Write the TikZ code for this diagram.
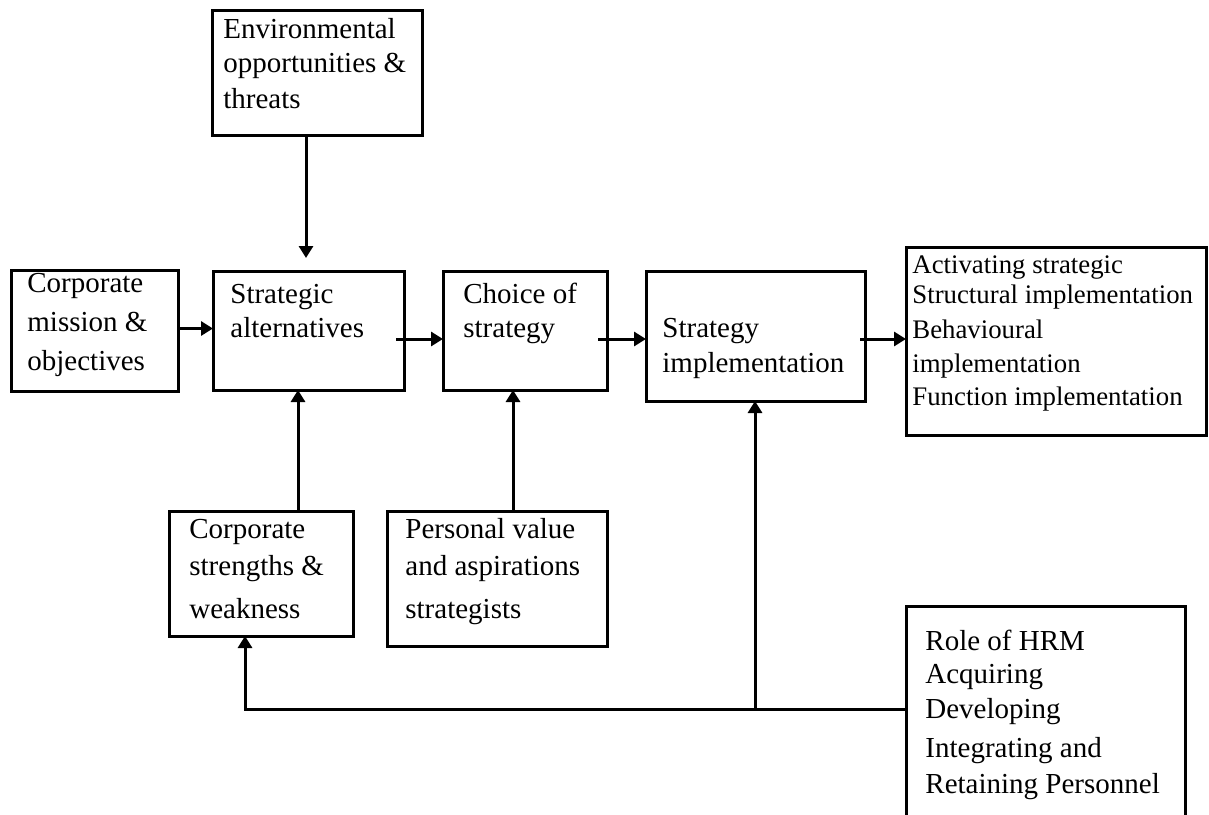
\documentclass[tikz,border=0pt]{standalone}
\usepackage{fontspec}
\setmainfont{Liberation Serif}
\usetikzlibrary{arrows.meta,calc}
\begin{document}
\begin{tikzpicture}[x=0.5pt,y=-0.5pt,
  boxstyle/.style={draw,line width=1.5pt,inner sep=0,outer sep=0},
  arr/.style={line width=1.5pt,-{Triangle[length=6pt,width=7pt]}},
  ln/.style={line width=1.5pt},
  txt/.style={anchor=base west,inner sep=0,font=\fontsize{14.5}{16}\selectfont},
  txtsm/.style={anchor=base west,inner sep=0,font=\fontsize{13.4}{16}\selectfont}]
\useasboundingbox (0,0) rectangle (1209,814);
% boxes: center, width, height (px)
\newcommand\mybox[5]{\node[boxstyle,minimum width=#4*0.5pt,minimum height=#5*0.5pt] (#1) at (#2,#3) {};}
\mybox{env}{317}{72.5}{210}{125}
\mybox{mis}{94.5}{330.5}{167}{121}
\mybox{alt}{308.5}{330.5}{191}{119}
\mybox{cho}{525}{330.5}{164}{119}
\mybox{imp}{755.5}{336}{219}{130}
\mybox{act}{1056}{341}{300}{188}
\mybox{str}{261}{573.5}{184}{125}
\mybox{per}{497}{578.5}{220}{135}
\node[inner sep=0,outer sep=0,minimum width=279*0.5pt,minimum height=210*0.5pt] (hrm) at (1045.5,711) {};
\draw[ln] (hrm.south west) -- (hrm.north west) -- (hrm.north east) -- (hrm.south east);
% texts
\foreach \n/\x/\y/\t in {
  e1/223/38/{Environmental}, e2/223/72/{opportunities \&}, e3/223/108/{threats},
  m1/27/292/{Corporate}, m2/27/331/{mission \&}, m3/27/370/{objectives},
  a1/230/303/{Strategic}, a2/230/337/{alternatives},
  c1/463/303/{Choice of}, c2/463/337/{strategy},
  i1/662/337/{Strategy}, i2/662/372/{implementation},
  s1/189/538/{Corporate}, s2/189/575/{strengths \&}, s3/189/618/{weakness},
  p1/405/538/{Personal value}, p2/405/575/{and aspirations}, p3/405/618/{strategists},
  h1/925/650/{Role of HRM}, h2/925/683/{Acquiring}, h3/925/718/{Developing}, h4/925/757/{Integrating and}, h5/925/793/{Retaining Personnel}}
  {\node[txt] (t\n) at (\x,\y) {\t};}
\foreach \n/\x/\y/\t in {
  r1/912/273/{Activating strategic}, r2/912/303/{Structural implementation}, r3/912/338/{Behavioural},
  r4/912/372/{implementation}, r5/912/405/{Function implementation}}
  {\node[txtsm] (t\n) at (\x,\y) {\t};}
% connectors
\coordinate (envtip) at (306,258);
\draw[arr] (env.south -| envtip) -- (envtip);
\draw[arr] ([shift={(0,-2)}]mis.east) coordinate (m0) -- (m0 -| alt.west);
\draw[arr] ([shift={(-8,8.5)}]alt.east) coordinate (a0) -- (a0 -| cho.west);
\draw[arr] ([shift={(-9,8.5)}]cho.east) coordinate (c0) -- (c0 -| imp.west);
\draw[arr] ([shift={(-5,3)}]imp.east) coordinate (i0) -- (i0 -| act.west);
\coordinate (sx) at (298,0);
\draw[arr] (str.north -| sx) -- (sx |- alt.south);
\coordinate (px) at (513,0);
\draw[arr] (per.north -| px) -- (px |- cho.south);
\coordinate (j) at (245,709);
\coordinate (k) at (755,709);
\draw[arr] (hrm.west |- j) -- (j) -- (j |- str.south);
\draw[arr] (k) -- (k |- imp.south);
\end{tikzpicture}
\end{document}
